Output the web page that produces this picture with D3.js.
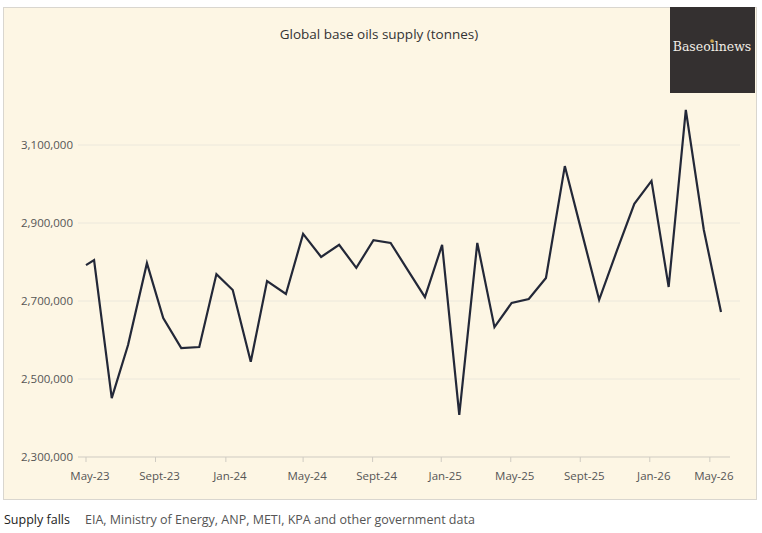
<!DOCTYPE html>
<html><head><meta charset="utf-8">
<script src="https://cdn.jsdelivr.net/npm/d3@7"></script>
<style>body{margin:0;background:#fff;font-family:"Open Sans",sans-serif;}</style>
</head><body><div id="chart"></div>
<script>
let width = 762, height = 533;
let values = [2792000,2805000,2451000,2587000,2797000,2656000,2579000,2582000,2769000,2728000,
    2544000,2751000,2718000,2872000,2813000,2844000,2785000,2856000,2849000,2779000,
    2710000,2844000,2408000,2849000,2633000,2695000,2705000,2759000,3046000,2874000,
    2703000,2831000,2949000,3008000,2736000,3190000,2882000,2672000];
// position of each point along the x axis (category units)
let positions = [0,0.47,1.5,2.45,3.55,4.5,5.55,6.6,7.6,8.55,9.6,10.55,11.65,12.65,13.7,14.75,15.75,
    16.75,17.75,18.75,19.75,20.75,21.75,22.8,23.8,24.8,25.8,26.8,27.9,28.9,29.9,30.95,31.95,32.95,
    33.95,34.95,36,37];
let tickLabels = ["May-23","Sept-23","Jan-24","May-24","Sept-24","Jan-25","May-25","Sept-25","Jan-26","May-26"];
let tickPositions = [0,4.05,8.15,12.65,16.7,20.7,24.75,28.8,32.85,36.35];
let yTicks = [2300000,2500000,2700000,2900000,3100000];

let svg = d3.select("#chart").append("svg").attr("width", width).attr("height", height);

svg.append("rect").attr("x", 3.5).attr("y", 7.5).attr("width", 753).attr("height", 492)
    .attr("fill", "#fdf6e4").attr("stroke", "#d9d6cf");

let x = d3.scaleLinear().domain([0, 37]).range([86, 721]);
let y = d3.scaleLinear().domain([2300000, 3100000]).range([457, 145]);

svg.append("g").selectAll("line").data(yTicks.slice(1)).join("line")
    .attr("x1", 78).attr("x2", 740).attr("y1", d => y(d)).attr("y2", d => y(d))
    .attr("stroke", "#ece8dc");

svg.append("g").selectAll("text").data(yTicks).join("text")
    .attr("x", 73).attr("y", d => y(d) + 4).attr("text-anchor", "end")
    .attr("font-size", 11.5).attr("fill", "#555").text(d3.format(","));

let xAxis = svg.append("g").attr("transform", "translate(0,457)");
xAxis.append("line").attr("x1", 78).attr("x2", 730).attr("stroke", "#cfcbc2");
xAxis.selectAll("line.t").data(tickPositions).join("line").attr("class", "t")
    .attr("x1", d => x(d)).attr("x2", d => x(d)).attr("y1", 0).attr("y2", 5).attr("stroke", "#cfcbc2");
xAxis.selectAll("text").data(tickLabels).join("text")
    .attr("x", (d, i) => x(tickPositions[i]) + 4).attr("y", 23).attr("text-anchor", "middle")
    .attr("font-size", 11.5).attr("fill", "#555").text(d => d);

let line = d3.line().x((d, i) => x(positions[i])).y(d => y(d));
svg.append("path").datum(values).attr("d", line).attr("fill", "none")
    .attr("stroke", "#232838").attr("stroke-width", 2.2).attr("stroke-linejoin", "miter");

svg.append("text").attr("x", 379).attr("y", 39).attr("text-anchor", "middle")
    .attr("font-size", 13.5).attr("fill", "#333").text("Global base oils supply (tonnes)");

// logo box
svg.append("rect").attr("x", 670).attr("y", 7).attr("width", 85).attr("height", 86).attr("fill", "#343030");
svg.append("text").attr("x", 712).attr("y", 51).attr("text-anchor", "middle")
    .attr("font-family", "DejaVu Serif, serif").attr("font-size", 12.5).attr("fill", "#f1ede6").text("Baseoilnews");
svg.append("circle").attr("cx", 712).attr("cy", 41).attr("r", 1.8).attr("fill", "#c9a24a");

svg.append("text").attr("x", 4).attr("y", 524).attr("font-size", 12.5).attr("fill", "#222")
    .text("Supply falls");
svg.append("text").attr("x", 85).attr("y", 524).attr("font-size", 12.5).attr("fill", "#555")
    .text("EIA, Ministry of Energy, ANP, METI, KPA and other government data");
</script></body></html>
